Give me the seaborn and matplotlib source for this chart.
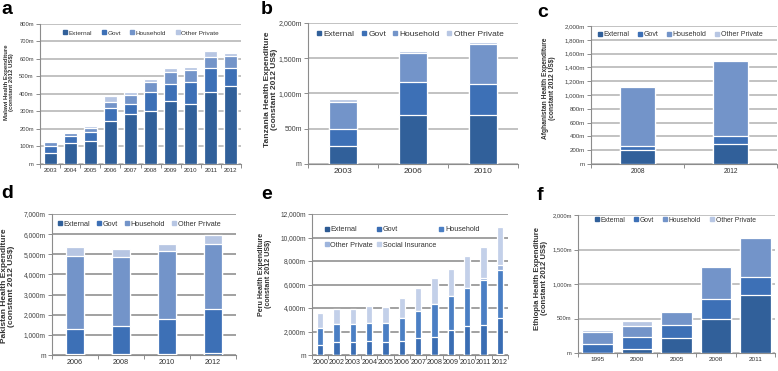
import numpy as np
import pandas as pd
import matplotlib
matplotlib.use("Agg")
import matplotlib.pyplot as plt
from matplotlib.lines import Line2D
from matplotlib.ticker import FuncFormatter, MultipleLocator, FixedLocator
import seaborn as sns

sns.set_theme(style="white")
plt.rcParams['font.family'] = ['Liberation Sans', 'DejaVu Sans']

# ---------------- data (millions, constant 2012 US$) ----------------
malawi_years = ["2003", "2004", "2005", "2006", "2007", "2008", "2009", "2010", "2011", "2012"]
malawi_external = [60, 122, 130, 248, 284, 300, 358, 343, 413, 448]
malawi_govt = [45, 38, 50, 74, 59, 114, 99, 127, 137, 102]
malawi_household = [18, 15, 23, 32, 49, 52, 69, 65, 63, 67]
malawi_other = [9, 5, 13, 35, 18, 19, 24, 21, 31, 15]

tanzania_years = ["2003", "2006", "2010"]
tanzania_external = [255, 700, 692]
tanzania_govt = [238, 460, 441]
tanzania_household = [384, 417, 573]
tanzania_other = [47, 29, 24]

afghan_years = ["2008", "2012"]
afghan_external = [200, 295]
afghan_govt = [65, 105]
afghan_household = [848, 1090]
afghan_other = [4, 4]

pakistan_years = ["2006", "2008", "2010", "2012"]
pakistan_external = [30, 30, 30, 100]
pakistan_govt = [1260, 1390, 1775, 2200]
pakistan_household = [3645, 3445, 3360, 3215]
pakistan_other = [430, 415, 365, 445]

peru_years = ["2000", "2002", "2003", "2004", "2005", "2006", "2007", "2008", "2009", "2010", "2011", "2012"]
peru_external = [0, 0, 0, 0, 0, 0, 0, 0, 0, 0, 0, 120]
peru_govt = [820, 1130, 1130, 1190, 1130, 1160, 1415, 1555, 2090, 2430, 2550, 3050]
peru_household = [1500, 1470, 1470, 1500, 1560, 2010, 2320, 2745, 2890, 3230, 3820, 4050]
peru_other = [0, 0, 0, 0, 0, 0, 0, 0, 0, 0, 225, 420]
peru_social = [1275, 1305, 1305, 1440, 1410, 1700, 1925, 2265, 2380, 2750, 2605, 3230]

ethiopia_years = ["1995", "2000", "2005", "2008", "2011"]
ethiopia_external = [0, 63, 217, 496, 838]
ethiopia_govt = [130, 168, 193, 285, 266]
ethiopia_household = [178, 159, 188, 467, 559]
ethiopia_other = [20, 68, 0, 0, 0]

C_EXT = "#31609a"
C_GOV = "#3d70b6"
C_HH = "#7394c9"
C_OP = "#b7c6e3"
C_SI = "#c3d0e9"

W, H = 778, 371
fig = plt.figure(figsize=(W / 100, H / 100), dpi=100)


def ax_at(l, t, r, b):
    return fig.add_axes([l / W, 1 - b / H, (r - l) / W, (b - t) / H])


def fmt(v, pos):
    return "m" if v <= 0 else f"{int(round(v)):,}m"


def panel(ax, years, layers, colors, names, ymax, step, width,
          yfs, xfs, lfs, leg_anchor, grid_c="#bdbdbd", ncol=4, order=None, colsp=1.4,
          leg_loc="center", lspace=0.55):
    layers = [np.asarray(l, dtype=float) for l in layers]
    cums = np.cumsum(layers, axis=0)
    for i in range(len(layers) - 1, -1, -1):
        df = pd.DataFrame({"year": years, "value": cums[i]})
        sns.barplot(data=df, x="year", y="value", order=years, color=colors[i],
                    width=width, edgecolor="white", linewidth=0.9, ax=ax,
                    saturation=1, zorder=3)
    n = len(years)
    ax.set_xlim(-0.5, n - 0.5)
    ax.set_ylim(0, ymax)
    ax.yaxis.set_major_locator(MultipleLocator(step))
    ax.yaxis.set_major_formatter(FuncFormatter(fmt))
    ax.grid(axis="y", color=grid_c, linewidth=1.3, zorder=0)
    ax.set_axisbelow(True)
    for s in ["top", "right"]:
        ax.spines[s].set_visible(False)
    for s in ["left", "bottom"]:
        ax.spines[s].set_color("#8c8c8c")
        ax.spines[s].set_linewidth(0.8)
    ax.tick_params(axis="y", length=3, width=0.7, color="#8c8c8c", labelsize=yfs,
                   labelcolor="#404040", pad=1.5, left=True)
    ax.tick_params(axis="x", length=0, labelsize=xfs, labelcolor="#303030", pad=3)
    ax.xaxis.set_minor_locator(FixedLocator(np.arange(-0.5, n, 1.0)))
    ax.tick_params(axis="x", which="minor", length=3, width=0.7, color="#8c8c8c", bottom=True)
    ax.set_xlabel("")
    ax.set_ylabel("")
    handles = [Line2D([], [], marker="s", linestyle="none", markersize=2.4,
                      markerfacecolor=c, markeredgecolor=c) for c in colors]
    labels = list(names)
    if order is not None:
        handles = [handles[i] for i in order]
        labels = [labels[i] for i in order]
    leg = ax.legend(handles, labels, loc=leg_loc, bbox_to_anchor=leg_anchor,
                    bbox_transform=fig.transFigure,
                    ncol=ncol, frameon=False, fontsize=lfs, handlelength=0.6,
                    handletextpad=0.25, columnspacing=colsp, borderpad=0.1,
                    labelcolor="#333333", labelspacing=lspace)
    leg.set_zorder(5)
    return ax


def ylab(text, x, y, fs):
    fig.text(x / W, 1 - y / H, text, rotation=90, ha="center", va="center",
             multialignment="center", fontsize=fs, fontweight="bold", color="#333333",
             linespacing=1.1)


names4 = ["External", "Govt", "Household", "Other Private"]
cols4 = [C_EXT, C_GOV, C_HH, C_OP]

# a Malawi
ax = ax_at(40, 24, 241, 164)
panel(ax, malawi_years, [malawi_external, malawi_govt, malawi_household, malawi_other],
      cols4, names4, 800, 100, 0.65, yfs=4.2, xfs=4.4, lfs=4.6,
      leg_anchor=(141 / W, 1 - 33 / H), colsp=1.5)
ylab("Malawi Health Expenditure\n(constant 2012 US$)", 9, 82, 4.3)

# b Tanzania
ax = ax_at(308, 23, 518, 164)
panel(ax, tanzania_years, [tanzania_external, tanzania_govt, tanzania_household, tanzania_other],
      cols4, names4, 2000, 500, 0.40, yfs=5.0, xfs=6.0, lfs=6.0,
      leg_anchor=(410 / W, 1 - 34 / H), colsp=0.8)
ylab("Tanzania Health Expenditure\n(constant 2012 US$)", 271, 89, 6.0)

# c Afghanistan
ax = ax_at(591, 26, 777, 164)
panel(ax, afghan_years, [afghan_external, afghan_govt, afghan_household, afghan_other],
      cols4, names4, 2000, 200, 0.38, yfs=4.4, xfs=4.8, lfs=5.0,
      leg_anchor=(680 / W, 1 - 35 / H), colsp=1.2)
ylab("Afghanistan Health Expenditure\n(constant 2012 US$)", 549, 88, 4.8)

# d Pakistan
ax = ax_at(52, 214, 236, 355)
panel(ax, pakistan_years, [pakistan_external, pakistan_govt, pakistan_household, pakistan_other],
      cols4, names4, 7000, 1000, 0.38, yfs=4.8, xfs=5.2, lfs=5.2,
      leg_anchor=(139 / W, 1 - 224 / H), grid_c="#9a9a9a", colsp=0.9)
ylab("Pakistan Health Expenditure\n(constant 2012 US$)", 8, 286, 6.0)

# e Peru
ax = ax_at(312, 214, 508, 355)
panel(ax, peru_years, [peru_external, peru_govt, peru_household, peru_other, peru_social],
      ["#2d5a93", "#3a6db3", "#4b7fc4", "#9db4dc", C_SI],
      ["External", "Govt", "Household", "Other Private", "Social Insurance"],
      12000, 2000, 0.37, yfs=4.8, xfs=5.1, lfs=5.2,
      leg_anchor=(320 / W, 1 - 222 / H), grid_c="#9a9a9a", ncol=3,
      order=[0, 3, 1, 4, 2], colsp=0.45, leg_loc="upper left", lspace=1.15)
ylab("Peru Health Expenditure\n(constant 2012 US$)", 265, 274, 5.1)

# f Ethiopia
ax = ax_at(578, 215, 775, 353)
panel(ax, ethiopia_years, [ethiopia_external, ethiopia_govt, ethiopia_household, ethiopia_other],
      cols4, names4, 2000, 500, 0.78, yfs=4.2, xfs=4.6, lfs=4.9,
      leg_anchor=(675 / W, 1 - 220 / H), colsp=1.3)
ylab("Ethiopia Health Expenditure\n(constant 2012 US$)", 541, 278, 5.6)

for lab, x, y in [("a", 1, 1), ("b", 261, 1), ("c", 537, 4), ("d", 1, 185), ("e", 261, 186), ("f", 537, 187)]:
    fig.text(x / W, 1 - y / H, lab, fontsize=14, fontweight="bold", va="top", ha="left",
             color="black")

fig.savefig("out.png", dpi=100)
